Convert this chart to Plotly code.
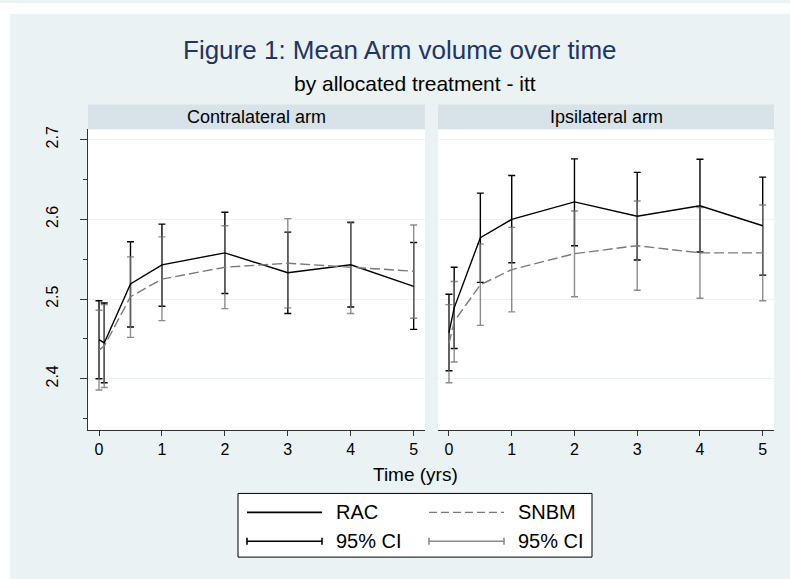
import plotly.graph_objects as go

# ---------------- data ----------------
times = [0, 0.083, 0.5, 1, 2, 3, 4, 5]

contra_rac_mean = [2.449, 2.445, 2.519, 2.543, 2.558, 2.533, 2.543, 2.516]
contra_rac_lo   = [2.400, 2.395, 2.465, 2.491, 2.507, 2.482, 2.490, 2.462]
contra_rac_hi   = [2.498, 2.495, 2.572, 2.594, 2.609, 2.584, 2.596, 2.571]
contra_snbm_mean = [2.436, 2.441, 2.503, 2.525, 2.540, 2.545, 2.540, 2.535]
contra_snbm_lo   = [2.386, 2.389, 2.452, 2.473, 2.488, 2.489, 2.482, 2.476]
contra_snbm_hi   = [2.486, 2.493, 2.553, 2.578, 2.592, 2.601, 2.597, 2.593]

ipsi_rac_mean = [2.458, 2.489, 2.577, 2.600, 2.622, 2.604, 2.617, 2.592]
ipsi_rac_lo   = [2.410, 2.438, 2.521, 2.5455, 2.567, 2.549, 2.559, 2.530]
ipsi_rac_hi   = [2.506, 2.540, 2.633, 2.655, 2.676, 2.659, 2.6755, 2.653]
ipsi_snbm_mean = [2.444, 2.472, 2.518, 2.537, 2.557, 2.567, 2.558, 2.558]
ipsi_snbm_lo   = [2.395, 2.421, 2.467, 2.484, 2.503, 2.511, 2.501, 2.498]
ipsi_snbm_hi   = [2.493, 2.522, 2.569, 2.590, 2.6105, 2.623, 2.615, 2.618]

panel_titles = ["Contralateral arm", "Ipsilateral arm"]
x_tickvals = [0, 1, 2, 3, 4, 5]
y_tickvals = [2.4, 2.5, 2.6, 2.7]
y_ticktext = ["2.4", "2.5", "2.6", "2.7"]
y_minorvals = [2.35, 2.45, 2.55, 2.65]
series_names = ["RAC", "SNBM"]
ci_label = "95% CI"

# ---------------- styling ----------------
W, H = 790, 579
FONT = "Liberation Sans, Arial, sans-serif"
BG = "#EAF2F3"
STRIP = "#D7E3E8"
AXC = "#333333"
RAC_C = "#000000"
SNBM_C = "#7A7A7A"
SNBM_CI = "rgba(115,115,115,0.82)"


def px(x):
    return x / W


def py(y):
    return 1 - y / H


panels = [
    dict(x0=88, x1=425, xa="x", ya="y",
         data=(contra_rac_mean, contra_rac_lo, contra_rac_hi,
               contra_snbm_mean, contra_snbm_lo, contra_snbm_hi)),
    dict(x0=438, x1=774, xa="x2", ya="y2",
         data=(ipsi_rac_mean, ipsi_rac_lo, ipsi_rac_hi,
               ipsi_snbm_mean, ipsi_snbm_lo, ipsi_snbm_hi)),
]
PLOT_TOP, PLOT_BOT = 127, 429
STRIP_TOP = 102

fig = go.Figure()

for p in panels:
    rm, rl, rh, sm, sl, sh = p["data"]
    # CI traces
    fig.add_trace(go.Scatter(
        x=times, y=rm, mode="markers", xaxis=p["xa"], yaxis=p["ya"],
        marker=dict(size=1, color="rgba(0,0,0,0)"), showlegend=False, hoverinfo="skip",
        error_y=dict(type="data", symmetric=False,
                     array=[h - m for h, m in zip(rh, rm)],
                     arrayminus=[m - l for m, l in zip(rm, rl)],
                     color=RAC_C, thickness=1.4, width=3.5)))
    fig.add_trace(go.Scatter(
        x=times, y=sm, mode="markers", xaxis=p["xa"], yaxis=p["ya"],
        marker=dict(size=1, color="rgba(0,0,0,0)"), showlegend=False, hoverinfo="skip",
        error_y=dict(type="data", symmetric=False,
                     array=[h - m for h, m in zip(sh, sm)],
                     arrayminus=[m - l for m, l in zip(sm, sl)],
                     color=SNBM_CI, thickness=1.4, width=3.5)))
    # mean lines
    fig.add_trace(go.Scatter(
        x=times, y=rm, mode="lines", xaxis=p["xa"], yaxis=p["ya"], name=series_names[0],
        line=dict(color=RAC_C, width=1.4), showlegend=False))
    fig.add_trace(go.Scatter(
        x=times, y=sm, mode="lines", xaxis=p["xa"], yaxis=p["ya"], name=series_names[1],
        line=dict(color=SNBM_C, width=1.4, dash="10px,4px"), showlegend=False))

shapes = []
annotations = []

# white outer border (top and left)
shapes.append(dict(type="rect", xref="paper", yref="paper", x0=0, x1=1, y0=py(11), y1=1,
                   fillcolor="white", line=dict(width=0), layer="below"))
shapes.append(dict(type="rect", xref="paper", yref="paper", x0=0, x1=px(10), y0=0, y1=1,
                   fillcolor="white", line=dict(width=0), layer="below"))

# strips
for p, t in zip(panels, panel_titles):
    shapes.append(dict(type="rect", xref="paper", yref="paper",
                       x0=px(p["x0"]), x1=px(p["x1"]), y0=py(PLOT_TOP), y1=py(STRIP_TOP),
                       fillcolor=STRIP, line=dict(width=0), layer="below"))
    annotations.append(dict(text=t, xref="paper", yref="paper",
                            x=px((p["x0"] + p["x1"]) / 2), y=py((PLOT_TOP + STRIP_TOP) / 2),
                            xanchor="center", yanchor="middle", showarrow=False,
                            font=dict(family=FONT, size=18, color="black")))

# titles
annotations.append(dict(text="Figure 1: Mean Arm volume over time", xref="paper", yref="paper",
                        x=px(400), y=py(47), xanchor="center", yanchor="middle", showarrow=False,
                        font=dict(family=FONT, size=26, color="#1F3564")))
annotations.append(dict(text="by allocated treatment - itt", xref="paper", yref="paper",
                        x=px(415), y=py(81), xanchor="center", yanchor="middle", showarrow=False,
                        font=dict(family=FONT, size=21, color="black")))
annotations.append(dict(text="Time (yrs)", xref="paper", yref="paper",
                        x=px(415), y=py(474), xanchor="center", yanchor="middle", showarrow=False,
                        font=dict(family=FONT, size=19, color="black")))

# legend box
shapes.append(dict(type="rect", xref="paper", yref="paper",
                   x0=px(238), x1=px(592), y0=py(557), y1=py(493),
                   fillcolor="white", line=dict(color="black", width=1)))
row1, row2 = 512, 541
# line samples
shapes.append(dict(type="line", xref="paper", yref="paper", x0=px(247), x1=px(322),
                   y0=py(row1), y1=py(row1), line=dict(color=RAC_C, width=1.6)))
shapes.append(dict(type="line", xref="paper", yref="paper", x0=px(429), x1=px(504),
                   y0=py(row1), y1=py(row1), line=dict(color=SNBM_C, width=1.4, dash="8px,4px")))
# CI samples
for (a, b, c) in [(247, 322, RAC_C), (429, 504, "#8A8A8A")]:
    shapes.append(dict(type="line", xref="paper", yref="paper", x0=px(a), x1=px(b),
                       y0=py(row2), y1=py(row2), line=dict(color=c, width=1.6)))
    for xx in (a, b):
        shapes.append(dict(type="line", xref="paper", yref="paper", x0=px(xx), x1=px(xx),
                           y0=py(row2 - 3.5), y1=py(row2 + 3.5), line=dict(color=c, width=1.6)))
for xx, yy, t in [(334, row1, series_names[0]), (516, row1, series_names[1]),
                  (334, row2, ci_label), (516, row2, ci_label)]:
    annotations.append(dict(text=t, xref="paper", yref="paper", x=px(xx), y=py(yy),
                            xanchor="left", yanchor="middle", showarrow=False,
                            font=dict(family=FONT, size=20, color="black")))

xaxis_common = dict(range=[-0.175, 5.18], tickmode="array", tickvals=x_tickvals,
                    ticks="outside", ticklen=5, tickcolor=AXC, tickwidth=1,
                    showline=True, linecolor=AXC, linewidth=1, showgrid=False, zeroline=False,
                    tickfont=dict(family=FONT, size=16, color="black"), fixedrange=True)
yaxis_common = dict(range=[2.336, 2.713], tickmode="array", tickvals=y_tickvals,
                    showgrid=True, gridcolor=BG, gridwidth=1, zeroline=False, fixedrange=True)

fig.update_layout(
    width=W, height=H,
    margin=dict(l=0, r=0, t=0, b=0),
    paper_bgcolor=BG, plot_bgcolor="white",
    showlegend=False,
    font=dict(family=FONT, color="black"),
    xaxis=dict(domain=[px(88), px(425)], anchor="y", **xaxis_common),
    xaxis2=dict(domain=[px(438), px(774)], anchor="y2", **xaxis_common),
    yaxis=dict(domain=[py(PLOT_BOT), py(PLOT_TOP)], anchor="x", ticktext=y_ticktext,
               tickangle=-90, ticks="outside", ticklen=7, tickcolor=AXC,
               showline=True, linecolor=AXC, linewidth=1, ticklabelstandoff=16,
               tickfont=dict(family=FONT, size=16, color="black"),
               minor=dict(tickmode="array", tickvals=y_minorvals, ticks="outside",
                          ticklen=4, tickcolor=AXC, showgrid=False),
               **yaxis_common),
    yaxis2=dict(domain=[py(PLOT_BOT), py(PLOT_TOP)], anchor="x2", matches="y",
                showticklabels=False, ticks="", showline=False, **yaxis_common),
    shapes=shapes,
    annotations=annotations,
)

fig.write_html("out.html", config={"displayModeBar": False},
               post_script="document.body.style.margin='0px';document.body.style.overflow='hidden';")
